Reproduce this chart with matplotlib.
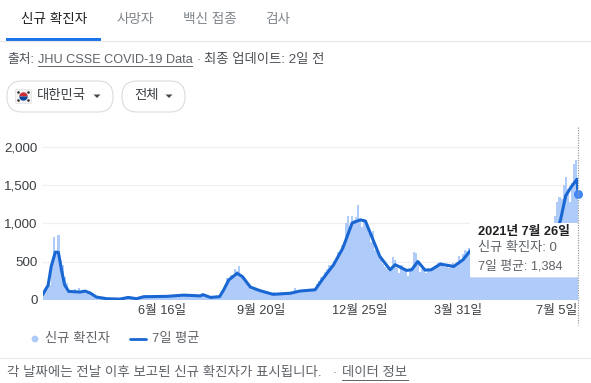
import numpy as np
import pandas as pd
import matplotlib
matplotlib.use("Agg")
import matplotlib.pyplot as plt
from matplotlib.patches import FancyBboxPatch, Rectangle, Circle, Wedge, Polygon

plt.rcParams['font.family'] = ['Liberation Sans', 'Noto Sans CJK KR', 'DejaVu Sans']

W, H = 591, 383
START = pd.Timestamp("2020-02-21")
END = pd.Timestamp("2021-07-26")

# new cases, read every second day from the start
bar_step = 2
new_cases = [70,130,230,190,480,820,600,850,520,460,300,220,130,110,100,146,100,150,90,105,125,100,100,80,60,
             45,35,28,25,20,15,12,10,9,8,8,8,6,10,18,30,35,30,28,22,15,16,25,35,60,
             45,40,45,42,40,50,45,48,50,45,40,48,45,52,50,60,62,55,58,60,50,50,45,50,42,48,55,90,70,50,
             35,30,32,35,38,42,50,120,190,280,270,330,320,400,370,440,320,290,280,200,170,130,150,125,115,
             115,100,90,85,70,60,65,95,75,70,85,80,90,85,80,85,90,150,110,100,115,125,100,115,125,120,130,140,
             200,240,300,280,360,400,450,440,510,500,620,610,720,680,1000,1090,950,1100,1050,1080,1240,1050,950,1020,1000,
             880,750,900,650,620,560,530,470,430,400,370,420,560,520,420,350,460,400,370,310,400,380,620,610,500,
             360,400,380,350,390,370,410,400,450,480,490,450,430,450,420,430,480,430,440,570,520,600,650,640,
             680,700,720,650,640,660,700,640,600,620,680,640,600,560,590,640,620,560,610,580,540,520,560,540,480,500,470,500,430,520,480,450,470,480,520,530,550,580,600,
             620,740,790,1100,1280,1350,1320,1500,1610,1450,1280,1530,1780,1830,1400]
# seven-day average: day offset and value
avg_days = [0,5,8,12,15,18,21,25,36,41,46,52,62,75,83,91,98,121,137,153,156,163,172,176,181,189,194,202,211,224,241,250,265,273,283,292,301,309,314,320,328,338,343,354,359,365,372,378,387,400,409,416,430,450,470,490,498,504,509,514,520,521]
avg_vals = [75,190,436,623,620,390,196,109,100,113,87,35,13,8,30,13,39,44,60,50,65,30,40,130,260,345,305,165,120,70,85,113,130,283,458,676,1003,1046,1030,830,567,392,458,384,392,500,388,392,466,436,523,640,680,620,570,520,800,1046,1360,1470,1578,1384]
tick_dates = ["2020-06-16", "2020-09-20", "2020-12-25", "2021-03-31", "2021-07-05"]
tick_labels = ["6월 16일", "9월 20일", "12월 25일", "3월 31일", "7월 5일"]
y_ticks = [0, 500, 1000, 1500, 2000]
y_labels = ["0", "500", "1,000", "1,500", "2,000"]
tabs = ["신규 확진자", "사망자", "백신 접종", "검사"]

BLUE = "#1967d2"
LIGHT = "#aecbfa"
DARK = "#202124"
GREY = "#5f6368"
SOFT = "#80868b"

fig = plt.figure(figsize=(W/100, H/100), dpi=100, facecolor="white")

# chart axes, placed in pixel terms
x0, x1, ytop, ybot = 43.0, 578.0, 127.0, 299.7
ax = fig.add_axes([x0/W, 1-ybot/H, (x1-x0)/W, (ybot-ytop)/H])
ax.set_xlim(START, END)
ax.set_ylim(0, 2000*(ybot-ytop)/(ybot-147.0))
bar_dates = START + pd.to_timedelta(np.arange(len(new_cases))*bar_step, unit="D")
ax.bar(bar_dates, new_cases, width=bar_step+0.1, align="edge", color=LIGHT, linewidth=0, zorder=2)
avg_dates = START + pd.to_timedelta(avg_days, unit="D")
ax.plot(avg_dates, avg_vals, color=BLUE, lw=2.2, solid_joinstyle="round", zorder=3)
ax.plot(avg_dates[-1:], avg_vals[-1:], "o", ms=5.5, color="#4285f4", zorder=4, clip_on=False)
for s in ax.spines.values():
    s.set_visible(False)
ax.patch.set_alpha(0)
ax.set_yticks(y_ticks, y_labels, fontsize=9.6, color="#3c4043")
ax.set_xticks(pd.to_datetime(tick_dates), tick_labels, fontsize=9.2, color="#3c4043")
ax.tick_params(length=0, axis="both")
ax.tick_params(axis="y", pad=4)
ax.tick_params(axis="x", pad=3.5)
ax.grid(axis="y", color="#f0f0f0", lw=1, zorder=0)
ax.set_axisbelow(True)

# page furniture, in pixels
ov = fig.add_axes([0, 0, 1, 1], zorder=5)
ov.set_xlim(0, W); ov.set_ylim(H, 0); ov.axis("off"); ov.patch.set_alpha(0)

def t(x, y, s, size=9.4, c=GREY, **kw):
    kw.setdefault("ha", "left"); kw.setdefault("va", "center")
    return ov.text(x, y, s, fontsize=size, color=c, **kw)

for cx, s, c in zip([54, 135, 210, 278], tabs, [DARK, SOFT, SOFT, SOFT]):
    t(cx, 19, s, size=9.8, c=c, ha="center")
ov.plot([0, W], [41, 41], color="#e6e6e6", lw=0.8)
ov.add_patch(Rectangle((6, 38.2), 95, 2.6, color="#1a73e8", lw=0))

t(7, 60, "출처:", c="#4d5156", size=9.2)
t(38, 60, "JHU CSSE COVID-19 Data", c="#5f6368", size=9.1)
ov.plot([38, 192], [66, 66], color="#5f6368", lw=0.7)
t(197, 60, "·", c="#70757a", size=9.2)
t(204, 60, "최종 업데이트: 2일 전", c="#4d5156", size=9.6)

for (a, b) in [(7, 113), (122, 185)]:
    ov.add_patch(FancyBboxPatch((a+15, 81+15), b-a-30, 1, boxstyle="round,pad=15,rounding_size=15",
                                fc="white", ec="#dadce0", lw=0.8))
# flag
ov.add_patch(FancyBboxPatch((16, 90), 15, 13, boxstyle="round,pad=0.5,rounding_size=1", fc="#f4f4f4", ec="#e0e0e0", lw=0.5))
ov.add_patch(Wedge((23.5, 96.5), 4.2, 180, 360, fc="#cd2e3a", lw=0))
ov.add_patch(Wedge((23.5, 96.5), 4.2, 0, 180, fc="#0047a0", lw=0))
for px, py in [(18.5, 92.5), (28.5, 92.5), (18.5, 100.5), (28.5, 100.5)]:
    ov.add_patch(Circle((px, py), 1.3, fc="#333333", lw=0))
t(37, 96.5, "대한민국", c="#3c4043", size=9.6)
t(134, 96.5, "전체", c="#3c4043", size=9.6)
for c in [97, 169]:
    ov.add_patch(Polygon([(c-3.5, 94.5), (c+3.5, 94.5), (c, 98)], fc="#444746", lw=0))

# tooltip and cursor line
ov.plot([578, 578], [127, 325], color="#9aa0a6", lw=0.9, ls=(0, (1, 1)))
ov.add_patch(Rectangle((471, 223), 107, 55, fc="#e9e9e9", lw=0, alpha=0.6))
ov.add_patch(Rectangle((470, 222.5), 107.5, 54.5, fc="white", lw=0))
t(477.5, 231.5, "2021년 7월 26일", c=DARK, size=9.2, fontweight="bold")
t(477.5, 248, "신규 확진자: 0", c=GREY, size=9.5)
t(477.5, 266, "7일 평균: 1,384", c=GREY, size=9.2)

# legend
ov.add_patch(Circle((35, 339), 3.4, fc=LIGHT, lw=0))
t(45, 339, "신규 확진자", c=GREY, size=9.6)
ov.plot([130, 146], [338.5, 338.5], color=BLUE, lw=2, solid_capstyle="round")
t(152, 339, "7일 평균", c=GREY, size=9.5)

# footer
ov.plot([0, W], [358, 358], color="#ebebeb", lw=0.8)
t(7, 373, "각 날짜에는 전날 이후 보고된 신규 확진자가 표시됩니다.", c="#5f6368", size=9.7)
t(332, 373, "·", c="#70757a", size=9.2)
t(342, 373, "데이터 정보", c="#5f6368", size=9.6)
ov.plot([342, 408], [380, 380], color="#5f6368", lw=0.7)

fig.savefig("out.png", dpi=100)
print(len(new_cases))
